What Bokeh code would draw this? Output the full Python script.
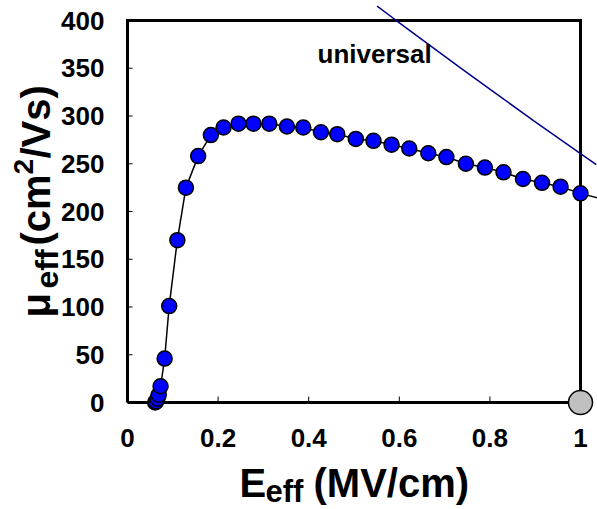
import math

from bokeh.core.properties import value
from bokeh.embed import file_html
from bokeh.models import FixedTicker, Range1d
from bokeh.plotting import figure
from bokeh.resources import INLINE

# Measured effective mobility (cm^2/Vs) against effective field (MV/cm)
e_eff = [0.061, 0.063, 0.066, 0.069, 0.073, 0.082, 0.092, 0.110, 0.129, 0.156,
         0.184, 0.212, 0.245, 0.278, 0.313, 0.352, 0.388, 0.427, 0.463, 0.504,
         0.543, 0.583, 0.622, 0.664, 0.704, 0.747, 0.789, 0.830, 0.873, 0.915,
         0.956, 1.000, 1.040]
mu_eff = [0, 1, 4, 8, 17, 46, 101, 170, 225, 258,
          280, 288, 292, 292, 292, 289, 288, 283, 281, 276,
          274, 270, 266, 261, 257, 250, 246, 241, 234, 230,
          226, 219, 214]

# Universal mobility curve
e_univ = [0.551, 0.592, 0.669, 0.735, 0.809, 0.897, 1.000, 1.035]
mu_univ = [415, 400.5, 373.5, 350.5, 325, 295, 260.5, 249]

# Reference point at the end of the field axis
e_ref = [1.0]
mu_ref = [0]

x_ticks = [0, 0.2, 0.4, 0.6, 0.8, 1]
x_tick_labels = ["0", "0.2", "0.4", "0.6", "0.8", "1"]
y_ticks = [0, 50, 100, 150, 200, 250, 300, 350, 400]

X_MIN, X_MAX = 0, 1
Y_MIN, Y_MAX = 0, 400

W, H = 597, 509
# pixel geometry of the boxed axes
BOX_L, BOX_R, BOX_T, BOX_B = 127, 580, 20, 402
# the frame reaches past the box so the overflowing curve and end marker stay visible
FRAME_L, FRAME_R, FRAME_T, FRAME_B = 122, W, 0, 416

SX = (X_MAX - X_MIN) / (BOX_R - BOX_L)
SY = (Y_MAX - Y_MIN) / (BOX_B - BOX_T)

# distance from a text's alphabetic baseline to the middle of its box, in em
MID_SHIFT = 0.3465


def xd(px):
    return X_MIN + (px - BOX_L) * SX


def yd(py):
    return Y_MIN + (BOX_B - py) * SY


FONT = value("Liberation Sans")

p = figure(width=W, height=H, output_backend="svg", toolbar_location=None,
           x_range=Range1d(xd(FRAME_L), xd(FRAME_R)),
           y_range=Range1d(yd(FRAME_B), yd(FRAME_T)),
           min_border_left=FRAME_L, min_border_right=W - FRAME_R,
           min_border_top=FRAME_T, min_border_bottom=H - FRAME_B)
p.outline_line_color = None
p.xgrid.visible = False
p.ygrid.visible = False
p.background_fill_color = "white"
p.border_fill_color = "white"

p.xaxis.ticker = FixedTicker(ticks=x_ticks)
p.xaxis.major_label_overrides = dict(zip(x_ticks, x_tick_labels))
p.yaxis.ticker = FixedTicker(ticks=y_ticks)
for ax in (p.xaxis[0], p.yaxis[0]):
    ax.axis_line_color = None
    ax.major_tick_line_color = None
    ax.minor_tick_line_color = None
    ax.major_tick_out = 0
    ax.major_tick_in = 0
    ax.major_label_text_font = "Liberation Sans"
    ax.major_label_text_font_size = "26px"
    ax.major_label_text_font_style = "bold"
    ax.major_label_text_color = "black"
p.xaxis.major_label_standoff = 12
p.yaxis.major_label_standoff = 18

# axes box and inward ticks
p.line(x=[X_MIN, X_MAX, X_MAX, X_MIN, X_MIN], y=[Y_MIN, Y_MIN, Y_MAX, Y_MAX, Y_MIN],
       line_color="black", line_width=3, line_join="miter")
p.segment(x0=[X_MIN] * len(y_ticks), y0=y_ticks, x1=[X_MIN + 5 * SX] * len(y_ticks), y1=y_ticks,
          line_color="black", line_width=1)
p.segment(x0=x_ticks, y0=[Y_MIN] * len(x_ticks), x1=x_ticks, y1=[Y_MIN + 6 * SY] * len(x_ticks),
          line_color="black", line_width=1)

# universal curve
p.line(e_univ, mu_univ, line_color="#00008B", line_width=1.5)

# measured data
p.line(e_eff, mu_eff, line_color="black", line_width=1.5)
e_pts = [e for e in e_eff if e <= X_MAX]
mu_pts = [m for e, m in zip(e_eff, mu_eff) if e <= X_MAX]
p.scatter(e_pts, mu_pts, size=15, fill_color="#0000FF", line_color="black", line_width=1.5)
p.scatter(e_ref, mu_ref, size=24, fill_color="#C0C0C0", line_color="black", line_width=1.5)


def text_piece(px, base, txt, size, angle=0.0, level="glyph"):
    """Place bold text whose baseline sits at `base` (y pixel, or x pixel when rotated)."""
    if angle:
        x, y = xd(base - MID_SHIFT * size), yd(px)
    else:
        x, y = xd(px), yd(base - MID_SHIFT * size)
    p.text(x=[x], y=[y], text=[txt], text_font=FONT, text_font_size=f"{size}px",
           text_font_style="bold", text_color="black", text_align="left",
           text_baseline="middle", angle=angle, level=level)


text_piece(317, 63, "universal", 26)

# x axis title: E_eff(MV/cm)
text_piece(239, 496, "E", 40, level="overlay")
text_piece(265, 502, "eff", 31, level="overlay")
text_piece(313, 496, "(MV/cm)", 40, level="overlay")

# y axis title: mu_eff(cm^2/Vs), reading upward
up = math.pi / 2
text_piece(317, 49, "\u03bc", 40, up, "overlay")
text_piece(288, 58, "eff", 32, up, "overlay")
text_piece(245, 49, "(cm", 40, up, "overlay")
text_piece(174, 33, "2", 28, up, "overlay")
text_piece(158, 49, "/Vs)", 40, up, "overlay")

open("out.html", "w").write(file_html(p, INLINE))
